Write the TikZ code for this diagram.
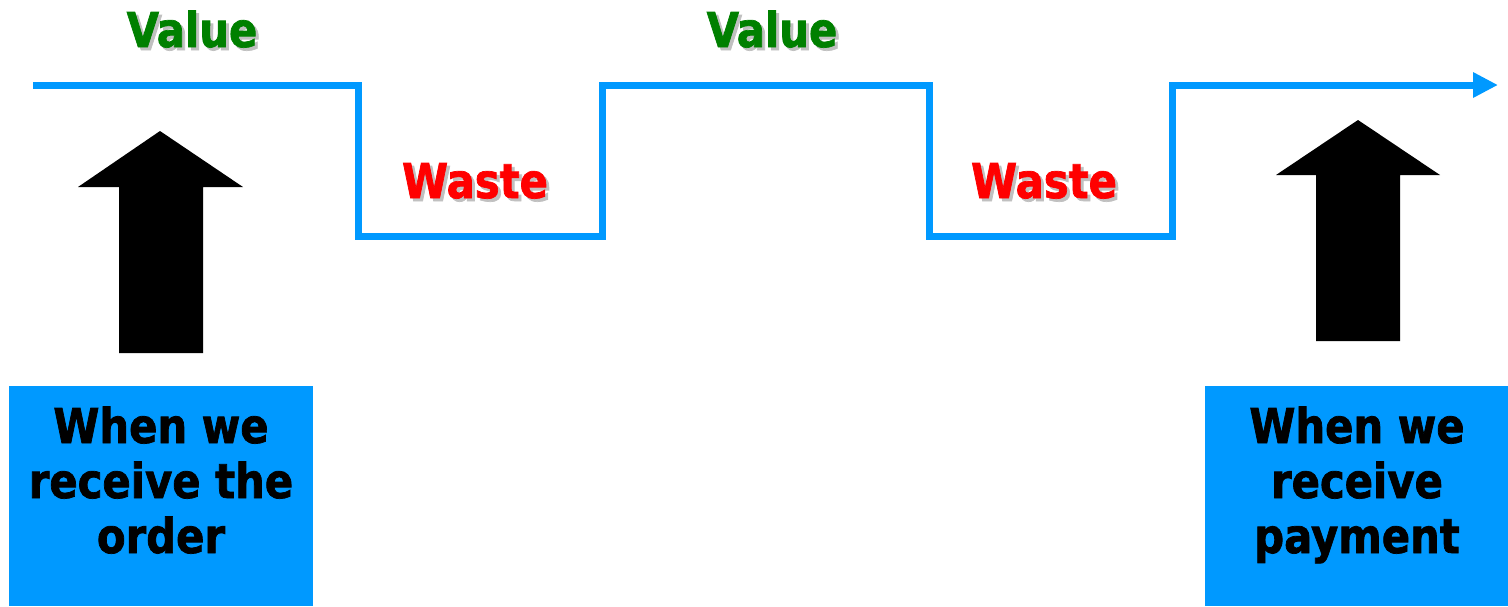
\documentclass[tikz,border=0pt]{standalone}
\usepackage{fontspec}
\setmainfont{DejaVu Sans}[FakeStretch=0.87,FakeBold=1.5]
\usetikzlibrary{arrows.meta}
\definecolor{flowblue}{HTML}{0099FF}
\definecolor{valuegreen}{HTML}{008000}
\definecolor{wastered}{HTML}{FF0000}
\definecolor{shadegray}{HTML}{C0C0C0}
% text with a soft gray shadow behind it
\newcommand{\shadowed}[2]{\rlap{\kern3pt\raisebox{-3pt}{\textcolor{shadegray}{#2}}}\textcolor{#1}{#2}}
\begin{document}
\begin{tikzpicture}[x=1pt,y=-1pt,
  flow/.style={draw=flowblue,line width=7pt},
  phase/.style={font=\fontsize{48}{55}\selectfont\bfseries,inner sep=0pt,anchor=base},
  eventbox/.style={fill=flowblue,minimum width=304pt,minimum height=220pt,inner sep=0pt,
    align=center,font=\fontsize{48}{55}\selectfont\bfseries,text height=146.5pt,text depth=32.5pt},
  bigarrow/.style={fill=black}]
\useasboundingbox (0,0) rectangle (1508,606);

% the value stream line
\coordinate (s0) at (33,85);
\coordinate (s1) at (358,85);
\coordinate (s2) at (358,236);
\coordinate (s3) at (602,236);
\coordinate (s4) at (602,85);
\coordinate (s5) at (929,85);
\coordinate (s6) at (929,236);
\coordinate (s7) at (1172,236);
\coordinate (s8) at (1172,85);
\coordinate (s9) at (1498,85);
\draw[flow,-{Triangle[length=25pt,width=24pt]}]
  (s0) -- (s1) -- (s2) -- (s3) -- (s4) -- (s5) -- (s6) -- (s7) -- (s8) -- (s9);

% phase labels
\node[phase] (value1) at (192,47) {\shadowed{valuegreen}{Value}};
\node[phase] (value2) at (772,47) {\shadowed{valuegreen}{Value}};
\node[phase] (waste1) at (475,198) {\shadowed{wastered}{Waste}};
\node[phase] (waste2) at (1044,198) {\shadowed{wastered}{Waste}};

% start and end events
\node[eventbox] (order) at (161,496) {When we\\receive the\\order};
\node[eventbox] (payment) at (1357,496) {When we\\receive\\payment};

% block arrows pointing at the line
\fill[bigarrow] (160,131) -- (243,187) -- (203,187) -- (203,353) -- (119,353) -- (119,187) -- (78,187) -- cycle;
\fill[bigarrow] (1358,120) -- (1440,175) -- (1400,175) -- (1400,341) -- (1316,341) -- (1316,175) -- (1276,175) -- cycle;
\end{tikzpicture}
\end{document}
